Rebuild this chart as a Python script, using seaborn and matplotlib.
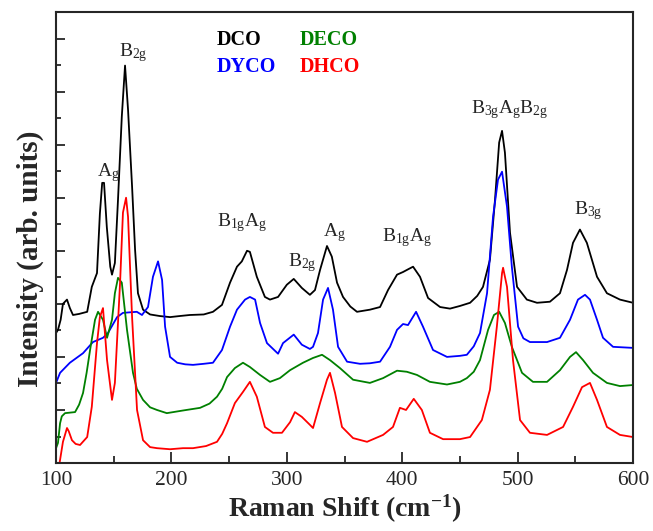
import numpy as np
import pandas as pd
import seaborn as sns
import matplotlib.pyplot as plt
from matplotlib.ticker import MultipleLocator, NullFormatter

# Raman spectra (x in cm^-1, intensity in arb. units, offset stacked)
dco_x = [100, 101.7, 104, 106, 109.5, 112, 114.7, 120, 127, 131, 135.5, 138, 140, 141.6, 144, 147,
         148.5, 151, 153.7, 157, 159.8, 162.4, 165.9, 168.5, 171, 175.4, 181.5, 190, 198.8, 207, 216,
         228, 236, 243.8, 250.8, 256.8, 261, 265.5, 268, 274, 281, 285.4, 292.4, 300, 306, 313, 320,
         324.4, 328.8, 334.8, 339, 343.5, 348.7, 355, 360.8, 372, 380.8, 387.7, 395.5, 400.7, 405,
         409.4, 415.4, 422.4, 432.8, 441.4, 450, 458.8, 465, 470, 476, 480.4, 484, 486.5, 489, 493.4,
         499.5, 508, 516.8, 528, 536.7, 542.8, 548, 554, 560, 568.8, 577.4, 588.7, 600]
dco_y = [2.45, 2.51, 2.7, 3.0, 3.08, 2.92, 2.79, 2.81, 2.85, 3.32, 3.58, 4.7, 5.28, 5.28, 4.45, 3.7,
         3.55, 3.77, 4.96, 6.53, 7.49, 6.66, 5.21, 4.02, 3.2, 2.89, 2.8, 2.77, 2.75, 2.77, 2.79,
         2.8, 2.85, 2.98, 3.4, 3.7, 3.8, 4.0, 3.98, 3.51, 3.13, 3.08, 3.13, 3.36, 3.47, 3.3, 3.17,
         3.26, 3.64, 4.09, 3.89, 3.4, 3.13, 2.95, 2.85, 2.89, 2.94, 3.26, 3.55, 3.6, 3.65,
         3.7, 3.51, 3.11, 2.94, 2.91, 2.96, 3.02, 3.15, 3.32, 3.83, 4.96, 6.04, 6.26, 5.85, 4.34,
         3.32, 3.08, 3.02, 3.04, 3.2, 3.64, 4.15, 4.4, 4.15, 3.51, 3.2, 3.08, 3.02]

dyco_x = [100, 103.5, 112, 123.4, 132, 140.7, 145, 152.9, 158, 164, 170, 174.5, 179.7, 184, 188.4,
          191.9, 194.5, 198.8, 205, 212, 218.7, 228, 236, 243.8, 250.8, 256.8, 263.8, 268, 272.5,
          276.8, 282.8, 292.4, 296.7, 306, 313, 320, 322.7, 327, 331.4, 335.7, 340, 344.4, 352.2,
          363.4, 372, 380.8, 389.4, 395.5, 400.7, 405, 412, 418, 426.7, 438.8, 450, 456, 462, 467.4,
          473.5, 478.7, 483, 486.5, 490.8, 495, 500.4, 505, 510.7, 525.5, 536.7, 545.4, 552.3, 558.4,
          562.7, 568.8, 574, 582.7, 600]
dyco_y = [1.51, 1.7, 1.89, 2.07, 2.28, 2.36, 2.45, 2.75, 2.83, 2.84, 2.85, 2.79, 2.94, 3.51, 3.8,
          3.45, 2.57, 2.0, 1.89, 1.86, 1.85, 1.87, 1.89, 2.13, 2.57, 2.89, 3.08, 3.13, 3.08,
          2.64, 2.26, 2.06, 2.26, 2.42, 2.23, 2.15, 2.19, 2.45, 3.08, 3.3, 2.89, 2.19, 1.91,
          1.87, 1.88, 1.91, 2.19, 2.51, 2.62, 2.6, 2.85, 2.57, 2.13, 2.0, 2.02, 2.04, 2.2, 2.45,
          3.2, 4.64, 5.34, 5.49, 4.83, 3.7, 2.57, 2.35, 2.28, 2.28, 2.36, 2.7, 3.08, 3.17,
          3.08, 2.7, 2.36, 2.19, 2.17]

deco_x = [100, 101.7, 103.5, 105, 107.8, 116.5, 120, 123.4, 126.5, 129.5, 133.8, 136.4, 140.7, 144.2,
          148.5, 151, 153.7, 157, 161.5, 166.7, 170, 175.4, 181.5, 187.5, 196, 210, 224.8, 233, 239.5,
          244, 248.2, 255, 262, 268, 276.8, 285.4, 294, 302.8, 314, 322.7, 330.5, 337.4, 346, 357.4,
          372, 383.4, 395.5, 404, 412.8, 424, 438.8, 450, 456, 462, 467.4, 474.4, 479.5, 484, 489,
          495, 503.8, 513.3, 525.5, 536.7, 545.4, 550.6, 556.7, 565.3, 577.4, 588.7, 600]
deco_y = [0.28, 0.38, 0.75, 0.88, 0.94, 0.96, 1.1, 1.32, 1.7, 2.13, 2.7, 2.85, 2.7, 2.36,
          2.7, 3.2, 3.49, 3.4, 2.51, 1.7, 1.4, 1.19, 1.05, 1.0, 0.94, 0.99, 1.04, 1.12, 1.25,
          1.4, 1.62, 1.79, 1.89, 1.81, 1.66, 1.53, 1.6, 1.75, 1.89, 1.98, 2.04, 1.94, 1.79, 1.57,
          1.51, 1.6, 1.74, 1.72, 1.66, 1.53, 1.48, 1.53, 1.6, 1.72, 1.94, 2.51, 2.79, 2.85, 2.64,
          2.19, 1.7, 1.53, 1.53, 1.75, 2.0, 2.09, 1.94, 1.7, 1.51, 1.45, 1.47]

dhco_x = [101, 103.5, 106, 109.5, 111, 113.8, 117, 120.8, 127, 131, 135.5, 138, 140.7, 144.2, 148.5,
          151, 155.5, 158, 160.7, 162.4, 165.9, 170.2, 175.4, 181.5, 187.5, 198.8, 210, 218.7, 230,
          239.5, 244, 248.2, 255, 262, 268, 274, 281, 288, 295.8, 302.8, 307, 313, 320, 322.7, 328.8,
          334.8, 337.4, 341.8, 347.8, 357.4, 369.5, 383.4, 392, 398, 403.3, 410, 417, 424, 435.4,
          450, 458.8, 469, 476, 482, 486.5, 487.4, 490.8, 496, 502.1, 510.7, 525.5, 539.4, 548,
          555.8, 562.7, 568.8, 577.4, 588.7, 600]
dhco_y = [-0.3, 0.06, 0.4, 0.66, 0.6, 0.43, 0.36, 0.34, 0.49, 1.06, 2.26, 2.75, 2.92, 1.94, 1.19,
          1.51, 3.4, 4.72, 5.0, 4.64, 2.75, 1.0, 0.43, 0.3, 0.28, 0.26, 0.28, 0.28, 0.32,
          0.4, 0.55, 0.75, 1.13, 1.34, 1.53, 1.25, 0.68, 0.57, 0.57, 0.77, 0.96, 0.87, 0.72, 0.66, 1.13,
          1.57, 1.7, 1.32, 0.68, 0.47, 0.4, 0.53, 0.68, 1.04, 1.0, 1.21, 1.0, 0.57, 0.45,
          0.45, 0.49, 0.81, 1.38, 2.57, 3.58, 3.68, 3.32, 1.94, 0.81, 0.57, 0.53, 0.68, 1.06,
          1.43, 1.51, 1.19, 0.68, 0.53, 0.49]

samples = ['DCO', 'DYCO', 'DECO', 'DHCO']
colors = ['black', '#0000ff', '#008000', '#ff0000']

# peak assignments: (label, x, y)
peak_labels = [r'A$_g$', r'B$_{2g}$', r'B$_{1g}$A$_g$', r'B$_{2g}$', r'A$_g$',
               r'B$_{1g}$A$_g$', r'B$_{3g}$A$_g$B$_{2g}$', r'B$_{3g}$']
peak_x = [135.3, 154.9, 239.3, 301.3, 331.1, 382.2, 459.4, 548.9]
peak_y = [5.40, 7.67, 4.46, 3.70, 4.27, 4.18, 6.60, 4.68]

df = pd.concat([
    pd.DataFrame({'shift': dco_x, 'intensity': dco_y, 'sample': 'DCO'}),
    pd.DataFrame({'shift': dyco_x, 'intensity': dyco_y, 'sample': 'DYCO'}),
    pd.DataFrame({'shift': deco_x, 'intensity': deco_y, 'sample': 'DECO'}),
    pd.DataFrame({'shift': dhco_x, 'intensity': dhco_y, 'sample': 'DHCO'}),
], ignore_index=True)

sns.set_style('ticks')
plt.rcParams['font.family'] = ['Liberation Serif', 'DejaVu Serif']
plt.rcParams['mathtext.default'] = 'regular'

fig = plt.figure(figsize=(6.53, 5.31), dpi=100)
ax = fig.add_axes([0.0858, 0.128, 0.8836, 0.8494])

sns.lineplot(data=df, x='shift', y='intensity', hue='sample', hue_order=samples,
             palette=dict(zip(samples, colors)), estimator=None, sort=False,
             linewidth=1.3, legend=False, ax=ax)

ax.set_xlim(100, 600)
ax.set_ylim(0, 8.5)
ax.xaxis.set_major_locator(MultipleLocator(100))
ax.xaxis.set_minor_locator(MultipleLocator(50))
ax.yaxis.set_major_locator(MultipleLocator(1))
ax.yaxis.set_minor_locator(MultipleLocator(0.5))
ax.yaxis.set_major_formatter(NullFormatter())

ax.tick_params(axis='both', which='both', direction='in', top=False, right=False, width=1.3)
ax.tick_params(axis='x', which='major', length=8, labelsize=15.5, pad=6)
ax.tick_params(axis='x', which='minor', length=5)
ax.tick_params(axis='y', which='major', length=6.5)
ax.tick_params(axis='y', which='minor', length=3.5)
for s in ax.spines.values():
    s.set_linewidth(1.5)
    s.set_visible(True)

ax.set_xlabel(r'Raman Shift (cm$^{-1}$)', fontsize=20, fontweight='bold', labelpad=2)
ax.set_ylabel('Intensity (arb. units)', fontsize=21, fontweight='bold')
ax.yaxis.set_label_coords(-0.02, 0.452)

for lab, x, y in zip(peak_labels, peak_x, peak_y):
    ax.text(x, y, lab, fontsize=14, ha='left', va='baseline')

# sample names in their line colours
ax.text(239.3, 7.98, 'DCO', color=colors[0], fontsize=14.5, fontweight='bold', va='center')
ax.text(239.3, 7.47, 'DYCO', color=colors[1], fontsize=14.5, fontweight='bold', va='center')
ax.text(311.4, 7.98, 'DECO', color=colors[2], fontsize=14.5, fontweight='bold', va='center')
ax.text(311.4, 7.47, 'DHCO', color=colors[3], fontsize=14.5, fontweight='bold', va='center')

fig.savefig('out.png', dpi=100)
